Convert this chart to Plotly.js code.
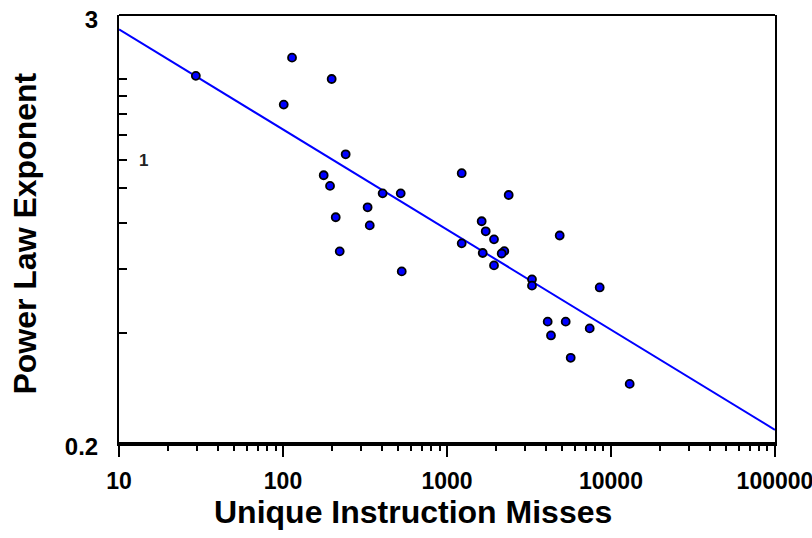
<!DOCTYPE html>
<html>
<head>
<meta charset="utf-8">
<script src="https://cdn.plot.ly/plotly-3.0.1.min.js"></script>
<style>html,body{margin:0;padding:0;background:#fff;}#chart{width:812px;height:538px;}</style>
</head>
<body>
<div id="chart"></div>
<script>
// Scatter data: unique instruction misses vs power law exponent
const missesX = [29.4, 113.5, 198, 101, 241, 177, 193.5, 405, 522, 328, 209.6, 338, 221.7, 529.6,
                 1229, 2378, 1627, 1722, 1935, 4867, 1229, 1651, 2236, 2155, 1935, 3298, 3298,
                 8534, 4111, 5294, 7418, 4307, 5679, 13000];
const exponentY = [2.04, 2.29, 2.0, 1.70, 1.24, 1.086, 1.015, 0.968, 0.968, 0.886, 0.832, 0.790, 0.670, 0.590,
                   1.10, 0.958, 0.811, 0.761, 0.723, 0.741, 0.705, 0.663, 0.671, 0.661, 0.613, 0.561, 0.539,
                   0.533, 0.429, 0.429, 0.411, 0.393, 0.341, 0.289];
// Power-law fit line
const fitX = [10, 100000];
const fitY = [2.74, 0.216];
// Tick labels
const xTickVals = [10, 100, 1000, 10000, 100000];
const xTickText = ['10', '100', '1000', '10000', '100000'];
const yTickVals = [0.2, 0.4, 0.6, 0.8, 1.0, 1.2, 1.4, 1.6, 1.8, 2.0, 3];
const yTickText = ['0.2', '', '', '', '', '', '', '', '', '', '3'];
const yInnerLabel = '1';
const yLongTick = 0.771;
const xTitle = 'Unique Instruction Misses';
const yTitle = 'Power Law Exponent';

const xMinor = [];
for (let d = 10; d < 100000; d *= 10) for (let k = 2; k <= 9; k++) xMinor.push(d * k);

const FONT = 'Liberation Sans, Arial, sans-serif';

const traces = [
  {x: fitX, y: fitY, type: 'scatter', mode: 'lines',
   line: {color: '#0000ff', width: 2}, hoverinfo: 'skip', showlegend: false},
  {x: missesX, y: exponentY, type: 'scatter', mode: 'markers',
   marker: {color: '#0000ff', size: 8, line: {color: '#000', width: 1.8}}, showlegend: false}
];

const layout = {
  width: 812, height: 538,
  margin: {l: 119, r: 37, t: 15, b: 96},
  paper_bgcolor: '#fff', plot_bgcolor: '#fff',
  font: {family: FONT, color: '#000'},
  showlegend: false,
  xaxis: {
    type: 'log', range: [0.9998, 5.0002],
    tickmode: 'array', tickvals: xTickVals, ticktext: xTickText,
    ticks: 'outside', ticklen: 11, tickwidth: 2, tickcolor: '#000',
    tickfont: {family: FONT, size: 23, weight: 'bold', color: '#000'},
    ticklabelstandoff: 4, ticklabeloverflow: 'allow',
    minor: {tickmode: 'array', tickvals: xMinor, ticks: 'outside', ticklen: 5, tickwidth: 2, tickcolor: '#000', showgrid: false},
    showline: true, linewidth: 4, linecolor: '#000', mirror: false,
    showgrid: false, zeroline: false
  },
  yaxis: {
    type: 'log', range: [Math.log10(0.2) - 0.0002, Math.log10(3) + 0.0002],
    tickmode: 'array', tickvals: yTickVals, ticktext: yTickText,
    ticks: 'inside', ticklen: 8, tickwidth: 2, tickcolor: '#000',
    tickfont: {family: FONT, size: 24, weight: 'bold', color: '#000'},
    ticklabelstandoff: 14, ticklabelshift: 5, ticklabeloverflow: 'allow',
    showline: true, linewidth: 2, linecolor: '#000', mirror: true,
    showgrid: false, zeroline: false
  },
  shapes: [
    {type: 'line', xref: 'paper', yref: 'paper', x0: 0, x1: 1, y0: 1, y1: 1,
     line: {color: '#000', width: 2}},
    {type: 'line', xref: 'paper', yref: 'y', x0: 0, x1: 0.023,
     y0: Math.log10(yLongTick), y1: Math.log10(yLongTick), line: {color: '#000', width: 2}}
  ],
  annotations: [
    {text: yInnerLabel, xref: 'paper', yref: 'paper', x: 0.0373, y: 0.66,
     xanchor: 'center', yanchor: 'middle', showarrow: false,
     font: {family: FONT, size: 17, weight: 'bold', color: '#222'}},
    {text: xTitle, xref: 'paper', yref: 'paper', x: 0.448, y: -0.165,
     xanchor: 'center', yanchor: 'middle', showarrow: false,
     font: {family: FONT, size: 32, weight: 'bold', color: '#000'}},
    {text: yTitle, xref: 'paper', yref: 'paper', x: -0.1433, y: 0.488, textangle: -90,
     xanchor: 'center', yanchor: 'middle', showarrow: false,
     font: {family: FONT, size: 32, weight: 'bold', color: '#000'}}
  ]
};

Plotly.newPlot('chart', traces, layout, {staticPlot: true, displayModeBar: false});
</script>
</body>
</html>
